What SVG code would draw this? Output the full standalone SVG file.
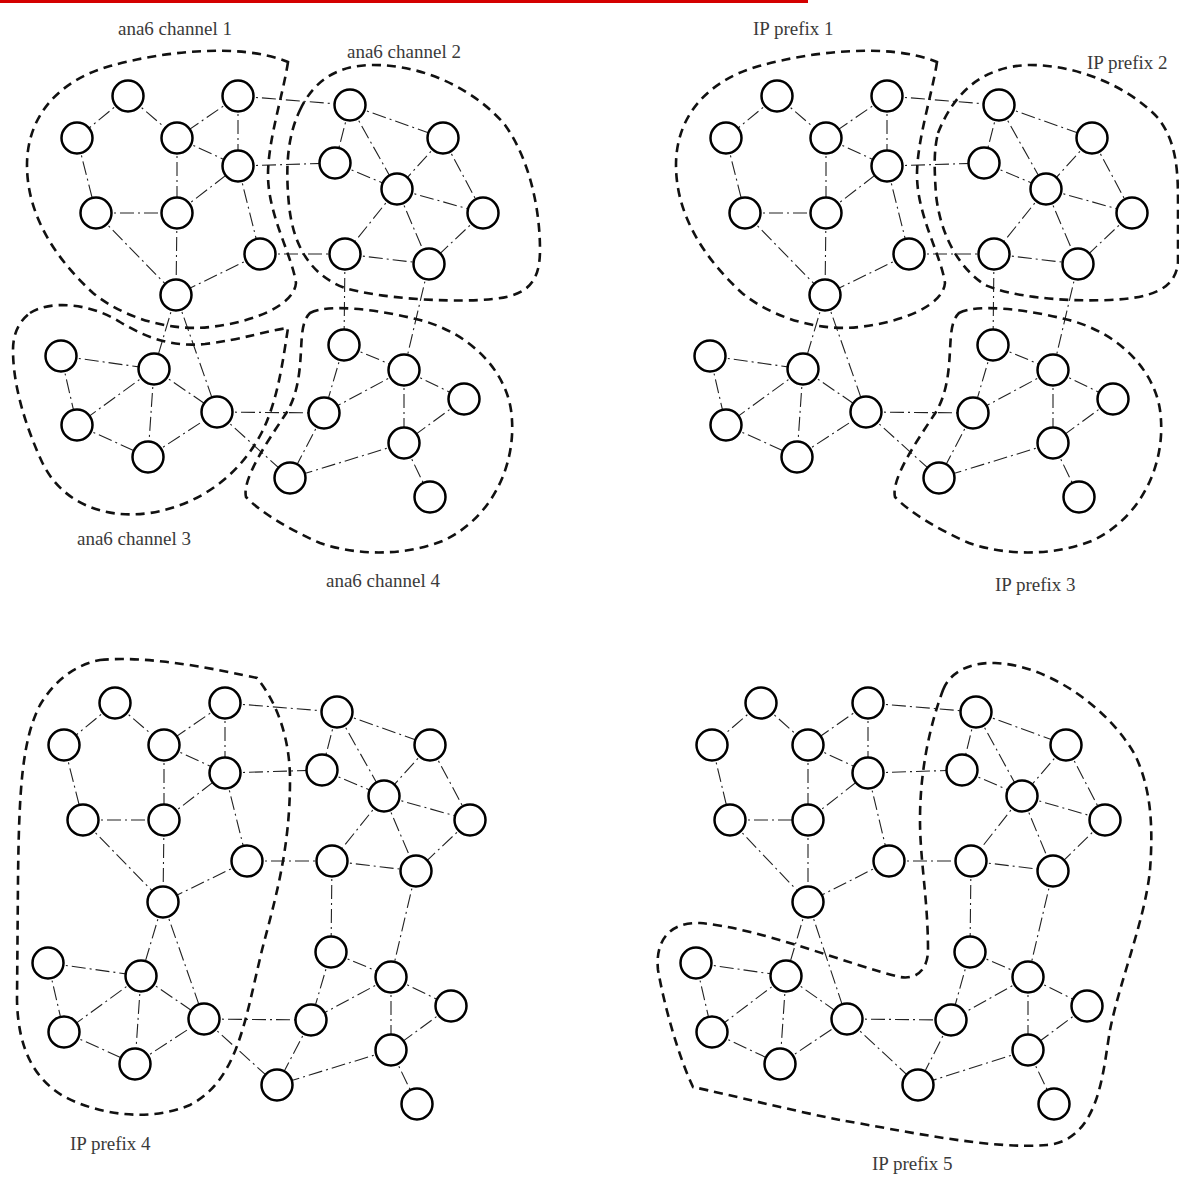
<svg xmlns="http://www.w3.org/2000/svg" width="1179" height="1178" viewBox="0 0 1179 1178">
<style>
.e{stroke:#222;stroke-width:1.1;stroke-dasharray:14 4 2 4;fill:none}
.node circle{fill:#fff;stroke:#000;stroke-width:2.5}
.b{fill:none;stroke:#111;stroke-width:2.6;stroke-dasharray:9 6}
.lbl{font-family:"Liberation Serif","Times New Roman",serif;font-size:19px;fill:#3a3a3a}
</style>
<rect x="0" y="0" width="1179" height="1178" fill="#fff"/>
<rect x="0" y="0" width="808" height="3" fill="#d40000"/>

<!-- ================= PANEL 1 ================= -->
<g id="panel1">
<g id="p1-connectors">
<line class="e" x1="128" y1="96" x2="77" y2="138"/>
<line class="e" x1="128" y1="96" x2="177" y2="138"/>
<line class="e" x1="238" y1="96" x2="177" y2="138"/>
<line class="e" x1="238" y1="96" x2="238" y2="166"/>
<line class="e" x1="238" y1="96" x2="350" y2="105"/>
<line class="e" x1="177" y1="138" x2="238" y2="166"/>
<line class="e" x1="177" y1="138" x2="177" y2="213"/>
<line class="e" x1="77" y1="138" x2="96" y2="213"/>
<line class="e" x1="96" y1="213" x2="177" y2="213"/>
<line class="e" x1="96" y1="213" x2="176" y2="295"/>
<line class="e" x1="177" y1="213" x2="176" y2="295"/>
<line class="e" x1="177" y1="213" x2="238" y2="166"/>
<line class="e" x1="238" y1="166" x2="260" y2="254"/>
<line class="e" x1="238" y1="166" x2="335" y2="163"/>
<line class="e" x1="260" y1="254" x2="176" y2="295"/>
<line class="e" x1="260" y1="254" x2="345" y2="254"/>
<line class="e" x1="350" y1="105" x2="335" y2="163"/>
<line class="e" x1="350" y1="105" x2="443" y2="138"/>
<line class="e" x1="350" y1="105" x2="397" y2="189"/>
<line class="e" x1="335" y1="163" x2="397" y2="189"/>
<line class="e" x1="443" y1="138" x2="397" y2="189"/>
<line class="e" x1="443" y1="138" x2="483" y2="213"/>
<line class="e" x1="397" y1="189" x2="483" y2="213"/>
<line class="e" x1="397" y1="189" x2="345" y2="254"/>
<line class="e" x1="397" y1="189" x2="429" y2="264"/>
<line class="e" x1="483" y1="213" x2="429" y2="264"/>
<line class="e" x1="345" y1="254" x2="429" y2="264"/>
<line class="e" x1="345" y1="254" x2="344" y2="345"/>
<line class="e" x1="429" y1="264" x2="404" y2="370"/>
<line class="e" x1="176" y1="295" x2="154" y2="369"/>
<line class="e" x1="176" y1="295" x2="217" y2="412"/>
<line class="e" x1="61" y1="356" x2="154" y2="369"/>
<line class="e" x1="61" y1="356" x2="77" y2="425"/>
<line class="e" x1="154" y1="369" x2="77" y2="425"/>
<line class="e" x1="154" y1="369" x2="148" y2="457"/>
<line class="e" x1="154" y1="369" x2="217" y2="412"/>
<line class="e" x1="77" y1="425" x2="148" y2="457"/>
<line class="e" x1="148" y1="457" x2="217" y2="412"/>
<line class="e" x1="217" y1="412" x2="324" y2="413"/>
<line class="e" x1="217" y1="412" x2="290" y2="478"/>
<line class="e" x1="344" y1="345" x2="404" y2="370"/>
<line class="e" x1="344" y1="345" x2="324" y2="413"/>
<line class="e" x1="404" y1="370" x2="324" y2="413"/>
<line class="e" x1="404" y1="370" x2="464" y2="399"/>
<line class="e" x1="404" y1="370" x2="404" y2="443"/>
<line class="e" x1="464" y1="399" x2="404" y2="443"/>
<line class="e" x1="324" y1="413" x2="290" y2="478"/>
<line class="e" x1="404" y1="443" x2="290" y2="478"/>
<line class="e" x1="404" y1="443" x2="430" y2="497"/>
</g>
<g id="p1-A" class="node"><circle cx="128" cy="96" r="15.5"/></g>
<g id="p1-B" class="node"><circle cx="238" cy="96" r="15.5"/></g>
<g id="p1-C" class="node"><circle cx="77" cy="138" r="15.5"/></g>
<g id="p1-D" class="node"><circle cx="177" cy="138" r="15.5"/></g>
<g id="p1-E" class="node"><circle cx="238" cy="166" r="15.5"/></g>
<g id="p1-F" class="node"><circle cx="350" cy="105" r="15.5"/></g>
<g id="p1-G" class="node"><circle cx="335" cy="163" r="15.5"/></g>
<g id="p1-H" class="node"><circle cx="443" cy="138" r="15.5"/></g>
<g id="p1-I" class="node"><circle cx="397" cy="189" r="15.5"/></g>
<g id="p1-J" class="node"><circle cx="483" cy="213" r="15.5"/></g>
<g id="p1-K" class="node"><circle cx="96" cy="213" r="15.5"/></g>
<g id="p1-L" class="node"><circle cx="177" cy="213" r="15.5"/></g>
<g id="p1-M" class="node"><circle cx="260" cy="254" r="15.5"/></g>
<g id="p1-N" class="node"><circle cx="345" cy="254" r="15.5"/></g>
<g id="p1-O" class="node"><circle cx="429" cy="264" r="15.5"/></g>
<g id="p1-P" class="node"><circle cx="176" cy="295" r="15.5"/></g>
<g id="p1-Q" class="node"><circle cx="61" cy="356" r="15.5"/></g>
<g id="p1-R" class="node"><circle cx="154" cy="369" r="15.5"/></g>
<g id="p1-S" class="node"><circle cx="217" cy="412" r="15.5"/></g>
<g id="p1-T" class="node"><circle cx="77" cy="425" r="15.5"/></g>
<g id="p1-U" class="node"><circle cx="148" cy="457" r="15.5"/></g>
<g id="p1-V" class="node"><circle cx="344" cy="345" r="15.5"/></g>
<g id="p1-W" class="node"><circle cx="404" cy="370" r="15.5"/></g>
<g id="p1-X" class="node"><circle cx="464" cy="399" r="15.5"/></g>
<g id="p1-Y" class="node"><circle cx="324" cy="413" r="15.5"/></g>
<g id="p1-Z" class="node"><circle cx="404" cy="443" r="15.5"/></g>
<g id="p1-AA" class="node"><circle cx="290" cy="478" r="15.5"/></g>
<g id="p1-AB" class="node"><circle cx="430" cy="497" r="15.5"/></g>
<g id="p1-regions">
<path id="ch1" class="b" d="M288,62 C283,95 268,140 268,175 C268,215 292,255 296,283 C294,305 255,322 210,327 C165,332 120,315 93,293 C55,258 27,215 27,165 C27,115 60,80 110,66 C160,52 240,42 288,62 Z"/>
<path id="ch2" class="b" d="M300,110 C315,78 340,66 370,65 C430,64 480,95 505,125 C530,160 540,210 540,250 C540,290 520,298 480,300 C440,302 380,298 345,288 C310,275 293,245 289,205 C285,165 288,135 300,110 Z"/>
<path id="ch3" class="b" d="M30,313 C50,300 90,303 120,322 C150,340 175,347 205,344 C240,340 270,330 288,328 C283,360 278,400 262,432 C240,475 200,505 150,513 C100,520 60,500 42,462 C25,425 13,385 13,350 C13,335 18,322 30,313 Z"/>
<path id="ch4" class="b" d="M310,313 C330,303 380,310 420,320 C470,333 505,370 511,410 C518,460 495,515 445,540 C410,555 360,557 320,543 C290,530 260,512 246,497 C242,480 265,445 285,415 C302,390 300,355 302,335 C303,325 305,318 310,313 Z"/>
</g>
<text class="lbl" x="118" y="35">ana6 channel 1</text>
<text class="lbl" x="347" y="58">ana6 channel 2</text>
<text class="lbl" x="77" y="545">ana6 channel 3</text>
<text class="lbl" x="326" y="587">ana6 channel 4</text>
</g>

<!-- ================= PANEL 2 ================= -->
<g id="panel2">
<g id="p2-connectors">
<line class="e" x1="777" y1="96" x2="726" y2="138"/>
<line class="e" x1="777" y1="96" x2="826" y2="138"/>
<line class="e" x1="887" y1="96" x2="826" y2="138"/>
<line class="e" x1="887" y1="96" x2="887" y2="166"/>
<line class="e" x1="887" y1="96" x2="999" y2="105"/>
<line class="e" x1="826" y1="138" x2="887" y2="166"/>
<line class="e" x1="826" y1="138" x2="826" y2="213"/>
<line class="e" x1="726" y1="138" x2="745" y2="213"/>
<line class="e" x1="745" y1="213" x2="826" y2="213"/>
<line class="e" x1="745" y1="213" x2="825" y2="295"/>
<line class="e" x1="826" y1="213" x2="825" y2="295"/>
<line class="e" x1="826" y1="213" x2="887" y2="166"/>
<line class="e" x1="887" y1="166" x2="909" y2="254"/>
<line class="e" x1="887" y1="166" x2="984" y2="163"/>
<line class="e" x1="909" y1="254" x2="825" y2="295"/>
<line class="e" x1="909" y1="254" x2="994" y2="254"/>
<line class="e" x1="999" y1="105" x2="984" y2="163"/>
<line class="e" x1="999" y1="105" x2="1092" y2="138"/>
<line class="e" x1="999" y1="105" x2="1046" y2="189"/>
<line class="e" x1="984" y1="163" x2="1046" y2="189"/>
<line class="e" x1="1092" y1="138" x2="1046" y2="189"/>
<line class="e" x1="1092" y1="138" x2="1132" y2="213"/>
<line class="e" x1="1046" y1="189" x2="1132" y2="213"/>
<line class="e" x1="1046" y1="189" x2="994" y2="254"/>
<line class="e" x1="1046" y1="189" x2="1078" y2="264"/>
<line class="e" x1="1132" y1="213" x2="1078" y2="264"/>
<line class="e" x1="994" y1="254" x2="1078" y2="264"/>
<line class="e" x1="994" y1="254" x2="993" y2="345"/>
<line class="e" x1="1078" y1="264" x2="1053" y2="370"/>
<line class="e" x1="825" y1="295" x2="803" y2="369"/>
<line class="e" x1="825" y1="295" x2="866" y2="412"/>
<line class="e" x1="710" y1="356" x2="803" y2="369"/>
<line class="e" x1="710" y1="356" x2="726" y2="425"/>
<line class="e" x1="803" y1="369" x2="726" y2="425"/>
<line class="e" x1="803" y1="369" x2="797" y2="457"/>
<line class="e" x1="803" y1="369" x2="866" y2="412"/>
<line class="e" x1="726" y1="425" x2="797" y2="457"/>
<line class="e" x1="797" y1="457" x2="866" y2="412"/>
<line class="e" x1="866" y1="412" x2="973" y2="413"/>
<line class="e" x1="866" y1="412" x2="939" y2="478"/>
<line class="e" x1="993" y1="345" x2="1053" y2="370"/>
<line class="e" x1="993" y1="345" x2="973" y2="413"/>
<line class="e" x1="1053" y1="370" x2="973" y2="413"/>
<line class="e" x1="1053" y1="370" x2="1113" y2="399"/>
<line class="e" x1="1053" y1="370" x2="1053" y2="443"/>
<line class="e" x1="1113" y1="399" x2="1053" y2="443"/>
<line class="e" x1="973" y1="413" x2="939" y2="478"/>
<line class="e" x1="1053" y1="443" x2="939" y2="478"/>
<line class="e" x1="1053" y1="443" x2="1079" y2="497"/>
</g>
<g id="p2-A" class="node"><circle cx="777" cy="96" r="15.5"/></g>
<g id="p2-B" class="node"><circle cx="887" cy="96" r="15.5"/></g>
<g id="p2-C" class="node"><circle cx="726" cy="138" r="15.5"/></g>
<g id="p2-D" class="node"><circle cx="826" cy="138" r="15.5"/></g>
<g id="p2-E" class="node"><circle cx="887" cy="166" r="15.5"/></g>
<g id="p2-F" class="node"><circle cx="999" cy="105" r="15.5"/></g>
<g id="p2-G" class="node"><circle cx="984" cy="163" r="15.5"/></g>
<g id="p2-H" class="node"><circle cx="1092" cy="138" r="15.5"/></g>
<g id="p2-I" class="node"><circle cx="1046" cy="189" r="15.5"/></g>
<g id="p2-J" class="node"><circle cx="1132" cy="213" r="15.5"/></g>
<g id="p2-K" class="node"><circle cx="745" cy="213" r="15.5"/></g>
<g id="p2-L" class="node"><circle cx="826" cy="213" r="15.5"/></g>
<g id="p2-M" class="node"><circle cx="909" cy="254" r="15.5"/></g>
<g id="p2-N" class="node"><circle cx="994" cy="254" r="15.5"/></g>
<g id="p2-O" class="node"><circle cx="1078" cy="264" r="15.5"/></g>
<g id="p2-P" class="node"><circle cx="825" cy="295" r="15.5"/></g>
<g id="p2-Q" class="node"><circle cx="710" cy="356" r="15.5"/></g>
<g id="p2-R" class="node"><circle cx="803" cy="369" r="15.5"/></g>
<g id="p2-S" class="node"><circle cx="866" cy="412" r="15.5"/></g>
<g id="p2-T" class="node"><circle cx="726" cy="425" r="15.5"/></g>
<g id="p2-U" class="node"><circle cx="797" cy="457" r="15.5"/></g>
<g id="p2-V" class="node"><circle cx="993" cy="345" r="15.5"/></g>
<g id="p2-W" class="node"><circle cx="1053" cy="370" r="15.5"/></g>
<g id="p2-X" class="node"><circle cx="1113" cy="399" r="15.5"/></g>
<g id="p2-Y" class="node"><circle cx="973" cy="413" r="15.5"/></g>
<g id="p2-Z" class="node"><circle cx="1053" cy="443" r="15.5"/></g>
<g id="p2-AA" class="node"><circle cx="939" cy="478" r="15.5"/></g>
<g id="p2-AB" class="node"><circle cx="1079" cy="497" r="15.5"/></g>
<g id="p2-regions">
<path id="ip1" class="b" transform="translate(649,0)" d="M288,62 C283,95 268,140 268,175 C268,215 292,255 296,283 C294,305 255,322 210,327 C165,332 120,315 93,293 C55,258 27,215 27,165 C27,115 60,80 110,66 C160,52 240,42 288,62 Z"/>
<path id="ip2" class="b" d="M938,133 C955,90 985,66 1030,65 C1080,65 1130,88 1158,118 C1175,140 1178,165 1178,200 L1178,262 C1176,290 1150,298 1110,300 C1060,302 1010,296 985,285 C955,265 940,230 936,195 C934,165 934,150 938,133 Z"/>
<path id="ip3" class="b" transform="translate(649,0)" d="M310,313 C330,303 380,310 420,320 C470,333 505,370 511,410 C518,460 495,515 445,540 C410,555 360,557 320,543 C290,530 260,512 246,497 C242,480 265,445 285,415 C302,390 300,355 302,335 C303,325 305,318 310,313 Z"/>
</g>
<text class="lbl" x="753" y="35">IP prefix 1</text>
<text class="lbl" x="1087" y="69">IP prefix 2</text>
<text class="lbl" x="995" y="591">IP prefix 3</text>
</g>

<!-- ================= PANEL 3 ================= -->
<g id="panel3">
<g id="p3-connectors">
<line class="e" x1="115" y1="703" x2="64" y2="745"/>
<line class="e" x1="115" y1="703" x2="164" y2="745"/>
<line class="e" x1="225" y1="703" x2="164" y2="745"/>
<line class="e" x1="225" y1="703" x2="225" y2="773"/>
<line class="e" x1="225" y1="703" x2="337" y2="712"/>
<line class="e" x1="164" y1="745" x2="225" y2="773"/>
<line class="e" x1="164" y1="745" x2="164" y2="820"/>
<line class="e" x1="64" y1="745" x2="83" y2="820"/>
<line class="e" x1="83" y1="820" x2="164" y2="820"/>
<line class="e" x1="83" y1="820" x2="163" y2="902"/>
<line class="e" x1="164" y1="820" x2="163" y2="902"/>
<line class="e" x1="164" y1="820" x2="225" y2="773"/>
<line class="e" x1="225" y1="773" x2="247" y2="861"/>
<line class="e" x1="225" y1="773" x2="322" y2="770"/>
<line class="e" x1="247" y1="861" x2="163" y2="902"/>
<line class="e" x1="247" y1="861" x2="332" y2="861"/>
<line class="e" x1="337" y1="712" x2="322" y2="770"/>
<line class="e" x1="337" y1="712" x2="430" y2="745"/>
<line class="e" x1="337" y1="712" x2="384" y2="796"/>
<line class="e" x1="322" y1="770" x2="384" y2="796"/>
<line class="e" x1="430" y1="745" x2="384" y2="796"/>
<line class="e" x1="430" y1="745" x2="470" y2="820"/>
<line class="e" x1="384" y1="796" x2="470" y2="820"/>
<line class="e" x1="384" y1="796" x2="332" y2="861"/>
<line class="e" x1="384" y1="796" x2="416" y2="871"/>
<line class="e" x1="470" y1="820" x2="416" y2="871"/>
<line class="e" x1="332" y1="861" x2="416" y2="871"/>
<line class="e" x1="332" y1="861" x2="331" y2="952"/>
<line class="e" x1="416" y1="871" x2="391" y2="977"/>
<line class="e" x1="163" y1="902" x2="141" y2="976"/>
<line class="e" x1="163" y1="902" x2="204" y2="1019"/>
<line class="e" x1="48" y1="963" x2="141" y2="976"/>
<line class="e" x1="48" y1="963" x2="64" y2="1032"/>
<line class="e" x1="141" y1="976" x2="64" y2="1032"/>
<line class="e" x1="141" y1="976" x2="135" y2="1064"/>
<line class="e" x1="141" y1="976" x2="204" y2="1019"/>
<line class="e" x1="64" y1="1032" x2="135" y2="1064"/>
<line class="e" x1="135" y1="1064" x2="204" y2="1019"/>
<line class="e" x1="204" y1="1019" x2="311" y2="1020"/>
<line class="e" x1="204" y1="1019" x2="277" y2="1085"/>
<line class="e" x1="331" y1="952" x2="391" y2="977"/>
<line class="e" x1="331" y1="952" x2="311" y2="1020"/>
<line class="e" x1="391" y1="977" x2="311" y2="1020"/>
<line class="e" x1="391" y1="977" x2="451" y2="1006"/>
<line class="e" x1="391" y1="977" x2="391" y2="1050"/>
<line class="e" x1="451" y1="1006" x2="391" y2="1050"/>
<line class="e" x1="311" y1="1020" x2="277" y2="1085"/>
<line class="e" x1="391" y1="1050" x2="277" y2="1085"/>
<line class="e" x1="391" y1="1050" x2="417" y2="1104"/>
</g>
<g id="p3-A" class="node"><circle cx="115" cy="703" r="15.5"/></g>
<g id="p3-B" class="node"><circle cx="225" cy="703" r="15.5"/></g>
<g id="p3-C" class="node"><circle cx="64" cy="745" r="15.5"/></g>
<g id="p3-D" class="node"><circle cx="164" cy="745" r="15.5"/></g>
<g id="p3-E" class="node"><circle cx="225" cy="773" r="15.5"/></g>
<g id="p3-F" class="node"><circle cx="337" cy="712" r="15.5"/></g>
<g id="p3-G" class="node"><circle cx="322" cy="770" r="15.5"/></g>
<g id="p3-H" class="node"><circle cx="430" cy="745" r="15.5"/></g>
<g id="p3-I" class="node"><circle cx="384" cy="796" r="15.5"/></g>
<g id="p3-J" class="node"><circle cx="470" cy="820" r="15.5"/></g>
<g id="p3-K" class="node"><circle cx="83" cy="820" r="15.5"/></g>
<g id="p3-L" class="node"><circle cx="164" cy="820" r="15.5"/></g>
<g id="p3-M" class="node"><circle cx="247" cy="861" r="15.5"/></g>
<g id="p3-N" class="node"><circle cx="332" cy="861" r="15.5"/></g>
<g id="p3-O" class="node"><circle cx="416" cy="871" r="15.5"/></g>
<g id="p3-P" class="node"><circle cx="163" cy="902" r="15.5"/></g>
<g id="p3-Q" class="node"><circle cx="48" cy="963" r="15.5"/></g>
<g id="p3-R" class="node"><circle cx="141" cy="976" r="15.5"/></g>
<g id="p3-S" class="node"><circle cx="204" cy="1019" r="15.5"/></g>
<g id="p3-T" class="node"><circle cx="64" cy="1032" r="15.5"/></g>
<g id="p3-U" class="node"><circle cx="135" cy="1064" r="15.5"/></g>
<g id="p3-V" class="node"><circle cx="331" cy="952" r="15.5"/></g>
<g id="p3-W" class="node"><circle cx="391" cy="977" r="15.5"/></g>
<g id="p3-X" class="node"><circle cx="451" cy="1006" r="15.5"/></g>
<g id="p3-Y" class="node"><circle cx="311" cy="1020" r="15.5"/></g>
<g id="p3-Z" class="node"><circle cx="391" cy="1050" r="15.5"/></g>
<g id="p3-AA" class="node"><circle cx="277" cy="1085" r="15.5"/></g>
<g id="p3-AB" class="node"><circle cx="417" cy="1104" r="15.5"/></g>
<g id="p3-regions">
<path id="ip4" class="b" d="M100,660 C150,655 220,670 257,678 C275,700 290,735 290,780 C290,850 275,900 262,950 C245,1020 238,1080 190,1105 C150,1122 100,1115 65,1097 C35,1080 18,1050 17,1000 L18,880 C19,790 22,740 40,705 C55,680 75,665 100,660 Z"/>
</g>
<text class="lbl" x="70" y="1150">IP prefix 4</text>
</g>

<!-- ================= PANEL 4 ================= -->
<g id="panel4">
<g id="p4-connectors">
<line class="e" x1="761" y1="703" x2="712" y2="745"/>
<line class="e" x1="761" y1="703" x2="808" y2="745"/>
<line class="e" x1="868" y1="703" x2="808" y2="745"/>
<line class="e" x1="868" y1="703" x2="868" y2="773"/>
<line class="e" x1="868" y1="703" x2="976" y2="712"/>
<line class="e" x1="808" y1="745" x2="868" y2="773"/>
<line class="e" x1="808" y1="745" x2="808" y2="820"/>
<line class="e" x1="712" y1="745" x2="730" y2="820"/>
<line class="e" x1="730" y1="820" x2="808" y2="820"/>
<line class="e" x1="730" y1="820" x2="808" y2="902"/>
<line class="e" x1="808" y1="820" x2="808" y2="902"/>
<line class="e" x1="808" y1="820" x2="868" y2="773"/>
<line class="e" x1="868" y1="773" x2="889" y2="861"/>
<line class="e" x1="868" y1="773" x2="962" y2="770"/>
<line class="e" x1="889" y1="861" x2="808" y2="902"/>
<line class="e" x1="889" y1="861" x2="971" y2="861"/>
<line class="e" x1="976" y1="712" x2="962" y2="770"/>
<line class="e" x1="976" y1="712" x2="1066" y2="745"/>
<line class="e" x1="976" y1="712" x2="1022" y2="796"/>
<line class="e" x1="962" y1="770" x2="1022" y2="796"/>
<line class="e" x1="1066" y1="745" x2="1022" y2="796"/>
<line class="e" x1="1066" y1="745" x2="1105" y2="820"/>
<line class="e" x1="1022" y1="796" x2="1105" y2="820"/>
<line class="e" x1="1022" y1="796" x2="971" y2="861"/>
<line class="e" x1="1022" y1="796" x2="1053" y2="871"/>
<line class="e" x1="1105" y1="820" x2="1053" y2="871"/>
<line class="e" x1="971" y1="861" x2="1053" y2="871"/>
<line class="e" x1="971" y1="861" x2="970" y2="952"/>
<line class="e" x1="1053" y1="871" x2="1028" y2="977"/>
<line class="e" x1="808" y1="902" x2="786" y2="976"/>
<line class="e" x1="808" y1="902" x2="847" y2="1019"/>
<line class="e" x1="696" y1="963" x2="786" y2="976"/>
<line class="e" x1="696" y1="963" x2="712" y2="1032"/>
<line class="e" x1="786" y1="976" x2="712" y2="1032"/>
<line class="e" x1="786" y1="976" x2="780" y2="1064"/>
<line class="e" x1="786" y1="976" x2="847" y2="1019"/>
<line class="e" x1="712" y1="1032" x2="780" y2="1064"/>
<line class="e" x1="780" y1="1064" x2="847" y2="1019"/>
<line class="e" x1="847" y1="1019" x2="951" y2="1020"/>
<line class="e" x1="847" y1="1019" x2="918" y2="1085"/>
<line class="e" x1="970" y1="952" x2="1028" y2="977"/>
<line class="e" x1="970" y1="952" x2="951" y2="1020"/>
<line class="e" x1="1028" y1="977" x2="951" y2="1020"/>
<line class="e" x1="1028" y1="977" x2="1087" y2="1006"/>
<line class="e" x1="1028" y1="977" x2="1028" y2="1050"/>
<line class="e" x1="1087" y1="1006" x2="1028" y2="1050"/>
<line class="e" x1="951" y1="1020" x2="918" y2="1085"/>
<line class="e" x1="1028" y1="1050" x2="918" y2="1085"/>
<line class="e" x1="1028" y1="1050" x2="1054" y2="1104"/>
</g>
<g id="p4-A" class="node"><circle cx="761" cy="703" r="15.5"/></g>
<g id="p4-B" class="node"><circle cx="868" cy="703" r="15.5"/></g>
<g id="p4-C" class="node"><circle cx="712" cy="745" r="15.5"/></g>
<g id="p4-D" class="node"><circle cx="808" cy="745" r="15.5"/></g>
<g id="p4-E" class="node"><circle cx="868" cy="773" r="15.5"/></g>
<g id="p4-F" class="node"><circle cx="976" cy="712" r="15.5"/></g>
<g id="p4-G" class="node"><circle cx="962" cy="770" r="15.5"/></g>
<g id="p4-H" class="node"><circle cx="1066" cy="745" r="15.5"/></g>
<g id="p4-I" class="node"><circle cx="1022" cy="796" r="15.5"/></g>
<g id="p4-J" class="node"><circle cx="1105" cy="820" r="15.5"/></g>
<g id="p4-K" class="node"><circle cx="730" cy="820" r="15.5"/></g>
<g id="p4-L" class="node"><circle cx="808" cy="820" r="15.5"/></g>
<g id="p4-M" class="node"><circle cx="889" cy="861" r="15.5"/></g>
<g id="p4-N" class="node"><circle cx="971" cy="861" r="15.5"/></g>
<g id="p4-O" class="node"><circle cx="1053" cy="871" r="15.5"/></g>
<g id="p4-P" class="node"><circle cx="808" cy="902" r="15.5"/></g>
<g id="p4-Q" class="node"><circle cx="696" cy="963" r="15.5"/></g>
<g id="p4-R" class="node"><circle cx="786" cy="976" r="15.5"/></g>
<g id="p4-S" class="node"><circle cx="847" cy="1019" r="15.5"/></g>
<g id="p4-T" class="node"><circle cx="712" cy="1032" r="15.5"/></g>
<g id="p4-U" class="node"><circle cx="780" cy="1064" r="15.5"/></g>
<g id="p4-V" class="node"><circle cx="970" cy="952" r="15.5"/></g>
<g id="p4-W" class="node"><circle cx="1028" cy="977" r="15.5"/></g>
<g id="p4-X" class="node"><circle cx="1087" cy="1006" r="15.5"/></g>
<g id="p4-Y" class="node"><circle cx="951" cy="1020" r="15.5"/></g>
<g id="p4-Z" class="node"><circle cx="1028" cy="1050" r="15.5"/></g>
<g id="p4-AA" class="node"><circle cx="918" cy="1085" r="15.5"/></g>
<g id="p4-AB" class="node"><circle cx="1054" cy="1104" r="15.5"/></g>
<g id="p4-regions">
<path id="ip5" class="b" d="M943,690 C950,672 970,662 995,663 C1050,665 1110,710 1135,755 C1152,790 1153,830 1150,870 C1145,920 1120,980 1110,1030 C1103,1070 1100,1140 1047,1145 C990,1150 900,1130 840,1120 C790,1110 730,1095 693,1087 C680,1060 665,1010 658,970 C655,940 670,922 700,923 C760,928 850,965 900,977 C918,980 928,968 928,950 C928,900 920,860 920,820 C920,770 930,725 943,690 Z"/>
</g>
<text class="lbl" x="872" y="1170">IP prefix 5</text>
</g>
</svg>
